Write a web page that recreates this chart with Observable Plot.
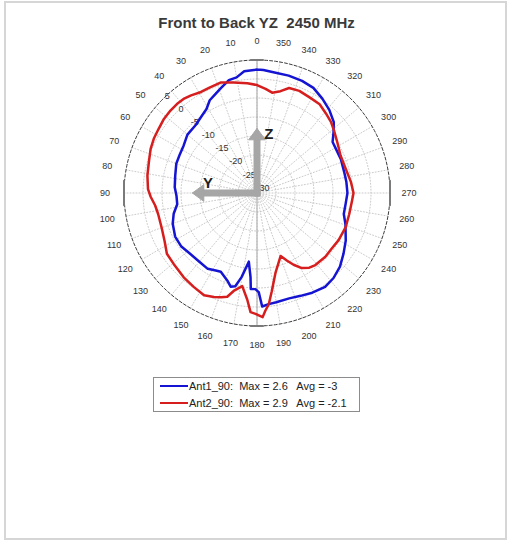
<!DOCTYPE html>
<html><head><meta charset="utf-8">
<script src="https://cdn.jsdelivr.net/npm/d3@7"></script>
<script src="https://cdn.jsdelivr.net/npm/@observablehq/plot@0.6"></script>
<style>
body{margin:0;background:#fff;font-family:Arial,"Liberation Sans",sans-serif;}
#wrap{position:relative;width:509px;height:541px;overflow:hidden;background:#fff;}
#frame{position:absolute;left:4px;top:1px;width:503px;height:539px;box-sizing:border-box;border:2px solid #d6d6d6;}
#title{position:absolute;left:2px;top:15px;width:509px;text-align:center;font-weight:bold;font-size:15px;line-height:16px;color:#3a3a3a;white-space:pre;}
#chart{position:absolute;left:0;top:0;}
#legend{position:absolute;left:153px;top:377px;width:207px;height:35px;box-sizing:border-box;border:1px solid #8c8c8c;background:#fff;}
.row{position:absolute;left:0;height:14px;width:100%;}
.swatch{position:absolute;left:6px;top:5.5px;width:28px;height:0;border-top:2.5px solid;}
.lab{position:absolute;left:35px;top:0;font-size:11px;line-height:14px;color:#222;white-space:pre;}
</style></head>
<body>
<div id="wrap">
  <div id="frame"></div>
  <div id="chart"></div>
  <div id="title"></div>
  <div id="legend"></div>
</div>
<script>
// ---------- data ----------
const titleText = "Front to Back YZ  2450 MHz";
const seriesNames = ["Ant1_90", "Ant2_90"];
const seriesMax = ["2.6", "2.9"];
const seriesAvg = ["-3", "-2.1"];
const seriesColors = ["#1414d2", "#d61e1e"];

// Ant1_90 (blue): angle in degrees (counter-clockwise from top), gain in dB
const angles1 = [0,6,10,14,19,23,27,31,36,42,50,57,64,70,78,86,92,98,104,110,118,125,132,140,147,152,155.3,161.2,164.3,166.9,169.6,173.2,175.6,176.3,179,181,182.6,186,190,197,203,209,216,222,228.4,235,241.8,250.5,256.4,263,270,277,283.5,292,299.4,304,308.4,312.7,319,325.3,331.8,338.1,344.9,352.8,357,360];
const values1 = [2.5,2.2,0.9,0.6,-0.8,-1.8,-2.6,-4.2,-5.1,-5.9,-6.1,-7.0,-7.3,-7.4,-8.0,-8.3,-8.8,-8.8,-7.4,-6.4,-5.6,-5.6,-6.2,-6.4,-6.2,-6.9,-7.2,-5.7,-4.4,-4.8,-7.5,-11.8,-7.8,-4.7,-4.7,-3.9,-0.1,-0.6,-0.8,-1.0,-0.6,0.0,0.5,0.1,-0.8,-2.2,-3.5,-5.3,-6.5,-6.5,-6.2,-6.3,-6.4,-6.2,-6.2,-6.0,-4.3,-2.5,-1.0,0.2,1.4,1.8,2.0,2.1,2.4,2.5];

// Ant2_90 (red)
const angles2 = [0,5,12,18,24,29,34,38,42,46.4,51.5,57,62,67.5,74,81,88,92,97,102,110,117.4,124,130.4,139,146,152.6,157.5,161,164,166.6,171,174.8,176.9,179.3,182.6,184.1,186,188.5,193,200.6,204,207,210.8,215,219,227,233.4,240,249,257,265.5,270,276.6,285.3,294.2,302.3,309.1,313.9,319.1,324.8,330.7,337.5,343,347,351.4,355.3,360];
const values2 = [-1.6,-1.0,-0.3,0.6,0.4,0.4,1.0,1.4,1.5,1.45,1.3,0.9,0.7,0.3,-0.4,-0.8,-1.3,-2.0,-3.0,-3.4,-3.3,-2.6,-1.4,-1.2,-0.6,-0.2,0.3,-0.4,-1.0,-1.6,-3.5,-5.2,-1.8,1.4,1.8,2.7,1.0,-0.5,-3.8,-8.4,-12.3,-10.5,-8.8,-7.0,-6.0,-5.6,-5.4,-5.5,-5.2,-5.0,-5.1,-4.9,-4.6,-5.1,-5.8,-5.9,-5.0,-3.9,-3.0,-2.3,-1.4,-1.3,-0.9,-1.1,-2.5,-3.3,-2.5,-1.6];

// axes
const rMin = -30, rMax = 5;
const ringValues = [-25,-20,-15,-10,-5,0];
const rTickLabels = ["-25","-20","-15","-10","-5","0","5"];
const rTickValues = [-25,-20,-15,-10,-5,0,5];
const centerLabel = "-30";
const thetaTicks = d3.range(0, 360, 10);
const axisArrows = [{name:"Z", angle:0}, {name:"Y", angle:90}];

// ---------- geometry helpers ----------
const R = v => v - rMin;                // radial distance in data units
const pol = (deg, r) => {const t = deg*Math.PI/180; return {x: -r*Math.sin(t), y: r*Math.cos(t)};};
const outerR = R(rMax);                  // 35
const circle = r => d3.range(0, 361, 2).map(a => pol(a, r));

const curve1 = angles1.map((a,i) => pol(a, R(values1[i])));
const curve2 = angles2.map((a,i) => pol(a, R(values2[i])));

const ringLines = ringValues.map(v => circle(R(v)));
const spokes = thetaTicks.map(a => [pol(a, 0), pol(a, outerR)]);
const thetaLabels = thetaTicks.map(a => ({...pol(a, 40), text: String(a)}));
const rLabels = rTickValues.map((v,i) => ({...pol(46, R(v)), text: rTickLabels[i]}));
rLabels.push({...pol(46, 0), text: centerLabel});

// arrows (length in radial units)
const arrowLen = 17, headLen = 3, headHalf = 2.2;
const shafts = axisArrows.map(a => [pol(a.angle, 0), pol(a.angle, arrowLen - headLen)]);
const heads = axisArrows.map(a => {
  const tip = pol(a.angle, arrowLen), b = pol(a.angle, arrowLen - headLen);
  const t = a.angle*Math.PI/180, px = Math.cos(t), py = Math.sin(t);
  return [tip, {x: b.x + headHalf*px, y: b.y + headHalf*py}, {x: b.x - headHalf*px, y: b.y - headHalf*py}, tip];
});
const arrowLabelPos = {Z: {along: 15.6, side: 3.1}, Y: {along: 12.9, side: 2.6}};
const arrowLabels = axisArrows.map(a => {
  const p = pol(a.angle, arrowLabelPos[a.name].along);
  const t = a.angle*Math.PI/180, s = arrowLabelPos[a.name].side;
  return {x: p.x + s*Math.cos(t), y: p.y + s*Math.sin(t), text: a.name};
});
// cardinal tick marks on the outer circle
const cardinal = [0, 90, 180, 270].map(a => {
  const c = pol(a, outerR), t = a*Math.PI/180, h = (a % 180 === 0) ? 1.6 : 3.2;
  return [{x: c.x + h*Math.cos(t), y: c.y + h*Math.sin(t)}, {x: c.x - h*Math.cos(t), y: c.y - h*Math.sin(t)}];
});
const vAxis = [pol(0, outerR), pol(180, outerR)];

const font = "Arial, 'Liberation Sans', sans-serif";
const marks = [];
spokes.forEach(s => marks.push(Plot.line(s, {x:"x", y:"y", stroke:"#bdbdbd", strokeWidth:0.8, strokeDasharray:"1,2"})));
ringLines.forEach(c => marks.push(Plot.line(c, {x:"x", y:"y", stroke:"#bdbdbd", strokeWidth:0.8, strokeDasharray:"1,2"})));
marks.push(Plot.line(circle(outerR), {x:"x", y:"y", stroke:"#3c3c3c", strokeWidth:1, strokeDasharray:"3,2"}));
marks.push(Plot.line(vAxis, {x:"x", y:"y", stroke:"#a8a8a8", strokeWidth:1}));
cardinal.forEach(c => marks.push(Plot.line(c, {x:"x", y:"y", stroke:"#7a7a7a", strokeWidth:2})));
marks.push(Plot.text(thetaLabels, {x:"x", y:"y", text:"text", fontSize:9, fill:"#333", fontFamily:font}));
marks.push(Plot.text(rLabels, {x:"x", y:"y", text:"text", fontSize:9, fill:"#333", fontFamily:font, dx:6, dy:-5}));
shafts.forEach(s => marks.push(Plot.line(s, {x:"x", y:"y", stroke:"#a6a6a6", strokeWidth:7, strokeLinecap:"square"})));
heads.forEach(h => marks.push(Plot.line(h, {x:"x", y:"y", stroke:"#a6a6a6", strokeWidth:1, fill:"#a6a6a6"})));
marks.push(Plot.text(arrowLabels, {x:"x", y:"y", text:"text", fontSize:15, fontWeight:"bold", fill:"#1e1e1e", fontFamily:font}));
marks.push(Plot.line(curve1, {x:"x", y:"y", stroke:seriesColors[0], strokeWidth:2.5, strokeLinejoin:"round"}));
marks.push(Plot.line(curve2, {x:"x", y:"y", stroke:seriesColors[1], strokeWidth:2.5, strokeLinejoin:"round"}));

const cx = 256.5, cy = 192.5, pxR = 133;
const W = 509, H = 541;
const chart = Plot.plot({
  width: W, height: H,
  marginLeft: cx - pxR, marginRight: W - (cx + pxR),
  marginTop: cy - pxR, marginBottom: H - (cy + pxR),
  x: {domain: [-outerR, outerR], axis: null},
  y: {domain: [-outerR, outerR], axis: null},
  style: {background: "transparent", fontFamily: font, overflow: "visible"},
  marks
});
document.getElementById("chart").appendChild(chart);
document.getElementById("title").textContent = titleText;

const leg = document.getElementById("legend");
seriesNames.forEach((n, i) => {
  const row = document.createElement("div");
  row.className = "row";
  row.style.top = (1 + i*17) + "px";
  const sw = document.createElement("div");
  sw.className = "swatch"; sw.style.borderTopColor = seriesColors[i];
  const lab = document.createElement("div");
  lab.className = "lab";
  lab.textContent = `${n}:  Max = ${seriesMax[i]}   Avg = ${seriesAvg[i]}`;
  row.appendChild(sw); row.appendChild(lab); leg.appendChild(row);
});
</script>
</body></html>
